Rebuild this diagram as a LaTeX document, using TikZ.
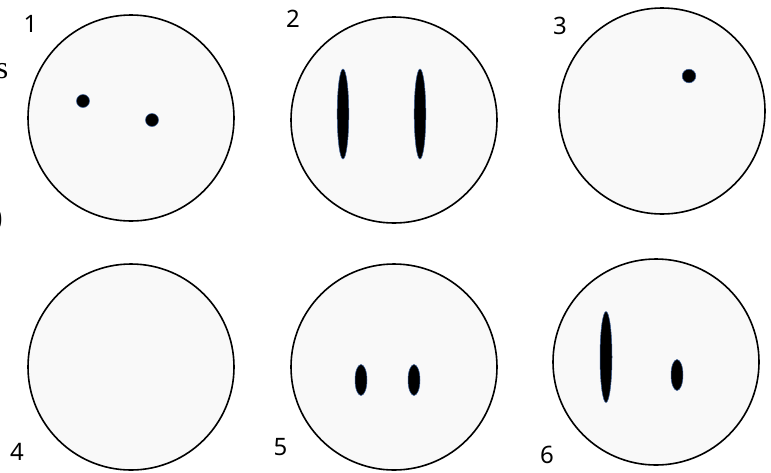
\documentclass[tikz,border=0pt]{standalone}
\usepackage{fontspec}
\setmainfont{Liberation Serif}
\newfontfamily\labfont{Noto Sans}
\definecolor{dishfill}{HTML}{F9F9F9}
\definecolor{spotedge}{HTML}{3A5F9A}
\begin{document}
\begin{tikzpicture}[x=1pt,y=-1pt,
  dish/.style={circle,draw=black,line width=1.6pt,fill=dishfill,minimum size=206pt,inner sep=0pt},
  spot/.style={fill=black,draw=spotedge,line width=0.5pt},
  numlab/.style={font=\labfont\fontsize{24}{24}\selectfont,inner sep=0pt},
  cuttext/.style={font=\fontsize{32}{32}\selectfont,inner sep=0pt}]
\useasboundingbox (0,0) rectangle (771,472);
\clip (0,0) rectangle (771,472);
% dishes
\node[dish] (d1) at (131,118) {};
\node[dish] (d2) at (394,120) {};
\node[dish] (d3) at (662,111) {};
\node[dish] (d4) at (131,367) {};
\node[dish] (d5) at (394,367) {};
\node[dish] (d6) at (656,362) {};
% spots
\fill[spot] (83,101) circle (6.5);
\fill[spot] (152,120) circle (6.5);
\filldraw[spot] (343,114) ellipse (5.8 and 45);
\filldraw[spot] (420,114) ellipse (5.8 and 45);
\filldraw[spot] (689,76) circle (6.8);
\filldraw[spot] (361,380) ellipse (6 and 15.5);
\filldraw[spot] (414,380) ellipse (6 and 15.5);
\filldraw[spot] (606,357) ellipse (6 and 45.5);
\filldraw[spot] (677,375) ellipse (6 and 15.5);
% labels
\node[numlab] (l1) at (30.5,24) {1};
\node[numlab] (l2) at (293,19) {2};
\node[numlab] (l3) at (560,26) {3};
\node[numlab] (l4) at (17,452) {4};
\node[numlab] (l5) at (280.5,447) {5};
\node[numlab] (l6) at (547,455) {6};
% cut-off text at the left edge
\node[cuttext,anchor=base east] (ts) at (8.5,78) {s};
\node[cuttext,anchor=base east] (tp) at (3,227) {)};
\end{tikzpicture}
\end{document}
